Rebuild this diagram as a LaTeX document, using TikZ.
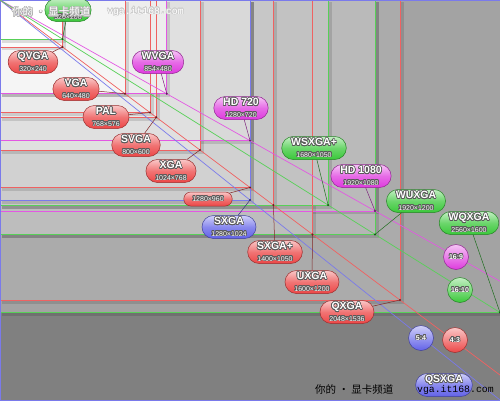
\documentclass[tikz,border=0pt]{standalone}
\usepackage{fontspec}
\setmainfont{Liberation Sans}
\newfontfamily\cjkfont{Noto Sans CJK SC}
\newfontfamily\urlfont{Liberation Mono}
\usepackage{contour}
\contourlength{0.6pt}
\usetikzlibrary{shapes.misc, calc}

\definecolor{resRed}{HTML}{EC4646}
\definecolor{resGreen}{HTML}{3AC83A}
\definecolor{resPink}{HTML}{DE3ADE}
\definecolor{resBlue}{HTML}{6262E8}

\newcommand{\restag}[2]{%
  {\fontsize{10.5}{10.5}\selectfont\bfseries\contour{black!65}{#1}}\\[-0.5pt]%
  {\fontsize{7}{7}\selectfont\contour{black!65}{#2}}}

\tikzset{
  frame/.style={line width=0.7pt, draw=#1!85},
  diag/.style={line width=0.7pt, draw=#1!85},
  pill/.style={
    rounded rectangle, draw=#1!65!black, line width=0.5pt,
    top color=#1!30!white, bottom color=#1, middle color=#1!75!white,
    minimum width=42pt, minimum height=23pt, inner xsep=4pt, inner ysep=1pt,
    align=center, text=white
  },
  ratio/.style={
    circle, draw=#1!65!black, line width=0.5pt,
    top color=#1!30!white, bottom color=#1,
    minimum size=25pt, inner sep=0pt, text=white,
    font=\bfseries\fontsize{7}{7}\selectfont
  },
  lead/.style={draw=#1!55!black, line width=0.5pt},
  corner/.style={fill=#1!45!black},
  wmark/.style={inner sep=0pt, anchor=west, font=\cjkfont\fontsize{10.5}{10.5}\selectfont},
  wurl/.style={inner sep=0pt, anchor=west, font=\urlfont\fontsize{9.8}{9.8}\selectfont}
}

\begin{document}
\begin{tikzpicture}[x=1pt, y=-1pt]
  \clip (0,0) rectangle (500,400);

  % screen areas, biggest first
  \foreach \w/\h/\g in {
    500/400/50, 500/312.5/36, 400/300/33, 375/234.4/29, 375/210.9/27,
    312.5/234.4/26, 328.1/205.1/24, 273.4/205.1/22, 250/200/20, 250/187.5/18,
    250/140.6/15, 200/150/12, 156.3/117.2/9, 150/112.5/8, 166.8/93.75/7,
    125/93.75/4, 62.5/46.9/2, 62.5/39.1/0}{
    \fill[black, opacity=0.12] (2,2) rectangle (\w+3.5,\h+3.5);
    \fill[black!\g] (0,0) rectangle (\w,\h);
  }

  \foreach \w/\h/\c in {
    62.5/39.1/resGreen, 62.5/46.9/resRed, 125/93.75/resRed, 150/112.5/resRed,
    166.8/93.75/resPink, 156.3/117.2/resRed, 200/150/resRed, 250/140.6/resPink,
    250/187.5/resRed, 250/200/resBlue, 273.4/205.1/resRed, 328.1/205.1/resGreen,
    375/210.9/resPink, 312.5/234.4/resRed, 375/234.4/resGreen, 400/300/resRed,
    500/312.5/resGreen, 500/400/resBlue}{
    \draw[frame=\c] (0,0) rectangle (\w,\h);
  }

  % aspect ratio diagonals
  \coordinate (o) at (0,0);
  \foreach \id/\ex/\ey/\c in {
    e43/500/375/resRed, e54/500/400/resBlue,
    e169/500/281.25/resPink, e1610/500/312.5/resGreen}{
    \coordinate (\id) at (\ex,\ey);
    \draw[diag=\c] (o) -- (\id);
  }

  % labels
  \foreach \id/\px/\py/\col/\ttl/\res/\cx/\cy in {
    qvga/33/62/resRed/QVGA/320×240/62.5/46.9,
    vga/76/89/resRed/VGA/640×480/125/93.75,
    pal/106/117/resRed/PAL/768×576/150/112.5,
    wvga/158/62/resPink/WVGA/854×480/166.8/93.75,
    svga/136/145/resRed/SVGA/800×600/156.3/117.2,
    xga/171/171/resRed/XGA/1024×768/200/150,
    hd720/241/108/resPink/HD 720/1280×720/250/140.6,
    sxga/229/227/resBlue/SXGA/1280×1024/250/200,
    wsxgap/314/148/resGreen/WSXGA+/1680×1050/328.1/205.1,
    hd1080/361/176/resPink/HD 1080/1920×1080/375/210.9,
    wuxga/416/201/resGreen/WUXGA/1920×1200/375/234.4,
    wqxga/469/223/resGreen/WQXGA/2560×1600/500/312.5,
    sxgap/275/252/resRed/SXGA+/1400×1050/273.4/205.1,
    uxga/312/282/resRed/UXGA/1600×1200/312.5/234.4,
    qxga/347/312/resRed/QXGA/2048×1536/400/300}{
    \node[pill=\col] (\id) at (\px,\py) {\restag{\ttl}{\res}};
    \coordinate (c-\id) at (\cx,\cy);
    \draw[lead=\col] (\id) -- (c-\id);
    \fill[corner=\col] (c-\id) circle (1.1pt);
  }

  \node[pill=resRed, minimum height=14pt, inner xsep=8pt] (r960) at (208,199)
    {\fontsize{7}{7}\selectfont\contour{black!65}{1280×960}};
  \coordinate (c-r960) at (250,187.5);
  \draw[lead=resRed] (r960) -- (c-r960);
  \fill[corner=resRed] (c-r960) circle (1.1pt);

  \node[pill=resGreen] (cga) at (68,10) {\restag{\phantom{CGA}}{320×200}};
  \coordinate (c-cga) at (62.5,39.1);
  \draw[lead=resGreen] (cga) -- (c-cga);
  \fill[corner=resGreen] (c-cga) circle (1.1pt);

  \node[pill=resBlue, minimum width=47pt] (qsxga) at (444,385)
    {\restag{QSXGA}{\phantom{2560×2048}}};

  \node[ratio=resPink] (r169) at (456,257) {\contour{black!65}{16:9}};
  \node[ratio=resGreen] (r1610) at (460,290) {\contour{black!65}{16:10}};
  \node[ratio=resBlue] (r54) at (421,338) {\contour{black!65}{5:4}};
  \node[ratio=resRed] (r43) at (455,340) {\contour{black!65}{4:3}};

  % watermarks
  \node[wmark, text=white] (wm-top) at (12,12) {\contour{black!30}{你的 · 显卡频道}};
  \node[wurl, text=white] (url-top) at (107,12) {\contour{black!20}{vga.it168.com}};
  \node[wmark] (wm-bot) at (315,389) {你的 · 显卡频道};
  \node[wurl] (url-bot) at (417,390) {vga.it168.com};
\end{tikzpicture}
\end{document}
